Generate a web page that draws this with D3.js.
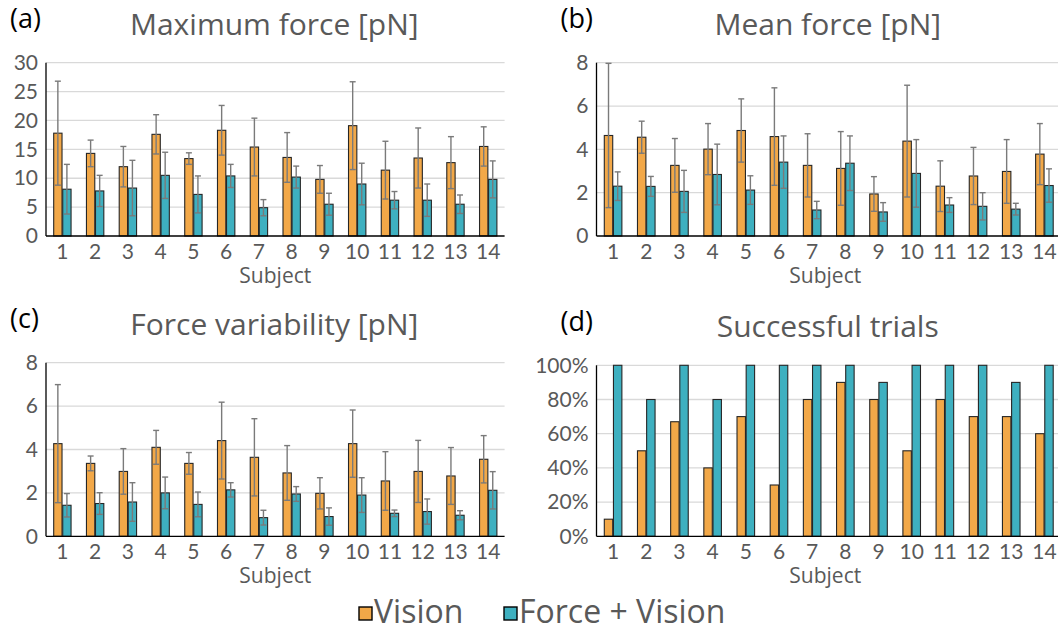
<!DOCTYPE html>
<html>
<head>
<meta charset="utf-8">
<script src="https://cdn.jsdelivr.net/npm/d3@7"></script>
<style>
  body { margin: 0; background: #fff; }
  svg { display: block; font-family: "Open Sans", Lato, sans-serif; }
</style>
</head>
<body>
<div class="container"></div>
<script>
var w = 1058;
var h = 632;

var subjects = ["1","2","3","4","5","6","7","8","9","10","11","12","13","14"];
var groups = ["Vision", "Force + Vision"];
var colors = ["#F2A848", "#3EB0C0"];

// (a) maximum force, mean and sd
var maxVision   = [17.8, 14.3, 12.0, 17.6, 13.4, 18.3, 15.4, 13.6, 9.8, 19.1, 11.4, 13.5, 12.7, 15.5];
var maxVisionSd = [9.0, 2.3, 3.5, 3.4, 1.0, 4.3, 5.0, 4.3, 2.4, 7.6, 5.0, 5.2, 4.5, 3.4];
var maxForce    = [8.1, 7.8, 8.3, 10.5, 7.2, 10.4, 4.9, 10.2, 5.5, 9.0, 6.2, 6.2, 5.5, 9.8];
var maxForceSd  = [4.3, 2.7, 4.8, 4.0, 3.2, 2.0, 1.4, 1.9, 1.9, 3.6, 1.5, 2.8, 1.6, 3.2];

// (b) mean force
var meanVision   = [4.64, 4.56, 3.26, 4.01, 4.87, 4.59, 3.26, 3.12, 1.94, 4.38, 2.30, 2.77, 2.98, 3.78];
var meanVisionSd = [3.33, 0.74, 1.24, 1.18, 1.46, 2.25, 1.46, 1.70, 0.80, 2.58, 1.17, 1.32, 1.47, 1.41];
var meanForce    = [2.30, 2.29, 2.06, 2.84, 2.12, 3.41, 1.20, 3.36, 1.11, 2.89, 1.43, 1.37, 1.24, 2.33];
var meanForceSd  = [0.66, 0.46, 0.97, 1.40, 0.66, 1.21, 0.40, 1.26, 0.43, 1.56, 0.34, 0.63, 0.27, 0.77];

// (c) force variability
var varVision   = [4.27, 3.36, 2.99, 4.10, 3.36, 4.41, 3.64, 2.92, 1.98, 4.27, 2.55, 2.99, 2.78, 3.55];
var varVisionSd = [2.72, 0.34, 1.05, 0.78, 0.50, 1.77, 1.78, 1.26, 0.72, 1.55, 1.35, 1.43, 1.31, 1.09];
var varForce    = [1.43, 1.51, 1.58, 2.00, 1.47, 2.14, 0.86, 1.95, 0.91, 1.90, 1.06, 1.14, 0.97, 2.12];
var varForceSd  = [0.54, 0.50, 0.89, 0.73, 0.57, 0.33, 0.34, 0.34, 0.40, 0.80, 0.15, 0.58, 0.21, 0.86];

// (d) successful trials
var succVision = [0.10, 0.50, 0.67, 0.40, 0.70, 0.30, 0.80, 0.90, 0.80, 0.50, 0.80, 0.70, 0.70, 0.60];
var succForce  = [1.00, 0.80, 1.00, 0.80, 1.00, 1.00, 1.00, 1.00, 0.90, 1.00, 1.00, 1.00, 0.90, 1.00];

var panels = [
  { tag: "(a)", title: "Maximum force [pN]", left: 46, right: 504.6, top: 62.7, base: 236,
    max: 30, ticks: [0, 5, 10, 15, 20, 25, 30], fmt: d3.format("d"),
    series: [maxVision, maxForce], sd: [maxVisionSd, maxForceSd] },
  { tag: "(b)", title: "Mean force [pN]", left: 596.5, right: 1061, top: 62.7, base: 236,
    max: 8, ticks: [0, 2, 4, 6, 8], fmt: d3.format("d"),
    series: [meanVision, meanForce], sd: [meanVisionSd, meanForceSd] },
  { tag: "(c)", title: "Force variability [pN]", left: 46, right: 504.6, top: 362.7, base: 536.3,
    max: 8, ticks: [0, 2, 4, 6, 8], fmt: d3.format("d"),
    series: [varVision, varForce], sd: [varVisionSd, varForceSd] },
  { tag: "(d)", title: "Successful trials", left: 596.5, right: 1061, top: 365.3, base: 536.3,
    max: 1, ticks: [0, 0.2, 0.4, 0.6, 0.8, 1], fmt: d3.format(".0%"),
    series: [succVision, succForce], sd: null }
];

var svg = d3.select(".container")
  .append("svg")
  .attr("width", w)
  .attr("height", h);

panels.forEach(function(p) {
  var g = svg.append("g");

  var x0 = d3.scaleBand()
    .domain(subjects)
    .range([p.left, p.right])
    .paddingInner(0.47)
    .paddingOuter(0.235);

  var x1 = d3.scaleBand()
    .domain(groups)
    .range([0, x0.bandwidth()])
    .paddingInner(0.08);

  var y = d3.scaleLinear()
    .domain([0, p.max])
    .range([p.base, p.top]);

  // gridlines
  g.selectAll(".grid")
    .data(p.ticks.slice(1))
    .enter()
    .append("line")
    .attr("x1", p.left)
    .attr("x2", p.right)
    .attr("y1", d => y(d))
    .attr("y2", d => y(d))
    .style("stroke", "#d9d9d9")
    .style("stroke-width", 1.3);

  // y tick labels
  var yAxis = d3.axisLeft(y).tickValues(p.ticks).tickFormat(p.fmt).tickSize(0).tickPadding(8);
  var ya = g.append("g")
    .attr("transform", "translate(" + p.left + ",0)")
    .call(yAxis);
  ya.select(".domain").remove();
  ya.selectAll("text")
    .style("font-family", "Lato, sans-serif")
    .style("font-size", "21px")
    .style("fill", "#595959");

  // bars
  groups.forEach(function(gr, k) {
    var vals = p.series[k];
    g.selectAll(".bar" + k)
      .data(vals)
      .enter()
      .append("rect")
      .attr("x", (d, i) => x0(subjects[i]) + x1(gr))
      .attr("y", d => y(d))
      .attr("width", x1.bandwidth())
      .attr("height", d => p.base - y(d))
      .style("fill", colors[k])
      .style("stroke", "#262626")
      .style("stroke-width", 1.1);
  });

  // error bars
  if (p.sd) {
    groups.forEach(function(gr, k) {
      var vals = p.series[k];
      var sds = p.sd[k];
      var eb = g.selectAll(".err" + k)
        .data(vals)
        .enter()
        .append("g")
        .style("stroke", "#7a7a7a")
        .style("stroke-width", 1.4);
      var cx = (d, i) => x0(subjects[i]) + x1(gr) + x1.bandwidth() / 2;
      eb.append("line")
        .attr("x1", cx).attr("x2", cx)
        .attr("y1", (d, i) => y(d + sds[i]))
        .attr("y2", (d, i) => y(Math.max(0, d - sds[i])));
      eb.append("line")
        .attr("x1", (d, i) => cx(d, i) - 3).attr("x2", (d, i) => cx(d, i) + 3)
        .attr("y1", (d, i) => y(d + sds[i]))
        .attr("y2", (d, i) => y(d + sds[i]));
      eb.append("line")
        .attr("x1", (d, i) => cx(d, i) - 3).attr("x2", (d, i) => cx(d, i) + 3)
        .attr("y1", (d, i) => y(Math.max(0, d - sds[i])))
        .attr("y2", (d, i) => y(Math.max(0, d - sds[i])));
    });
  }

  // axis lines
  g.append("line")
    .attr("x1", p.left).attr("x2", p.left)
    .attr("y1", p.top).attr("y2", p.base)
    .style("stroke", "#000").style("stroke-width", 1.3);
  g.append("line")
    .attr("x1", p.left).attr("x2", p.right)
    .attr("y1", p.base).attr("y2", p.base)
    .style("stroke", "#000").style("stroke-width", 1.3);

  // x tick labels
  var xAxis = d3.axisBottom(x0).tickSize(0).tickPadding(8);
  var xa = g.append("g")
    .attr("transform", "translate(0," + p.base + ")")
    .call(xAxis);
  xa.select(".domain").remove();
  xa.selectAll("text")
    .style("font-family", "Lato, sans-serif")
    .style("font-size", "21px")
    .style("fill", "#595959");

  // x axis title
  g.append("text")
    .attr("x", (p.left + Math.min(p.right, 1058)) / 2 - (p.right > 1058 ? 2 : 0))
    .attr("y", p.base + 47)
    .attr("text-anchor", "middle")
    .style("font-size", "21px")
    .style("fill", "#595959")
    .text("Subject");

  // panel title
  g.append("text")
    .attr("x", (p.left + p.right) / 2 - 1)
    .attr("y", p.top - 28)
    .attr("text-anchor", "middle")
    .style("font-size", "30px")
    .style("fill", "#595959")
    .text(p.title);

  g.append("text")
    .attr("x", p.left - 36)
    .attr("y", p.top - 34.5)
    .style("font-size", "27px")
    .style("fill", "#000")
    .text(p.tag);
});

// legend
var legend = svg.append("g").attr("id", "legend");
var legendX = [359, 504];
groups.forEach(function(gr, k) {
  legend.append("rect")
    .attr("x", legendX[k])
    .attr("y", 607)
    .attr("width", 13)
    .attr("height", 13)
    .style("fill", colors[k])
    .style("stroke", "#000")
    .style("stroke-width", 1.4);
  legend.append("text")
    .attr("x", legendX[k] + 15)
    .attr("y", 623)
    .style("font-size", "32px")
    .style("fill", "#595959")
    .text(gr);
});
</script>
</body>
</html>
